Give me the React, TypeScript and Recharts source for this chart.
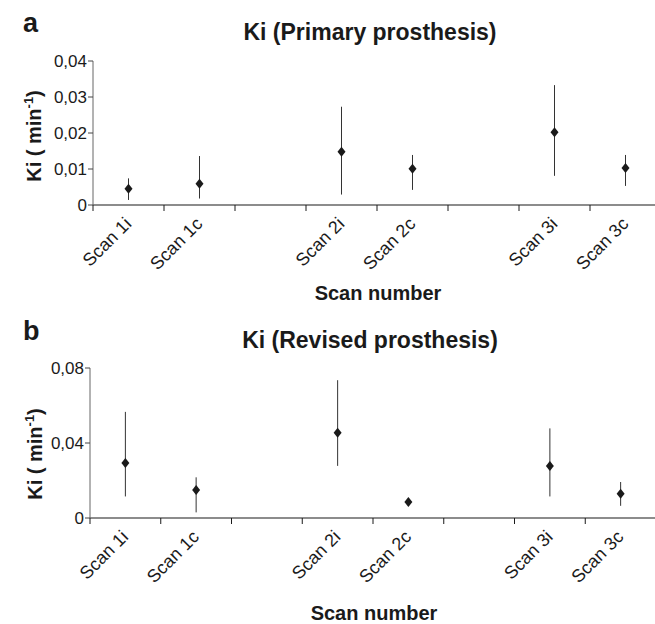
import { ComposedChart, Scatter, XAxis, YAxis, ErrorBar, Label } from 'recharts';

const categories = ['Scan 1i', 'Scan 1c', '', 'Scan 2i', 'Scan 2c', '', 'Scan 3i', 'Scan 3c'];

// panel a: primary prosthesis
const primaryKi = [0.0045, 0.0059, null, 0.0148, 0.0101, null, 0.0202, 0.0103];
const primaryLow = [0.0014, 0.0018, null, 0.0029, 0.0042, null, 0.0081, 0.0053];
const primaryHigh = [0.0074, 0.0136, null, 0.0273, 0.0139, null, 0.0333, 0.0139];
const primaryTicks = [0, 0.01, 0.02, 0.03, 0.04];

// panel b: revised prosthesis
const revisedKi = [0.0294, 0.015, null, 0.0455, 0.0086, null, 0.0278, 0.013];
const revisedLow = [0.0115, 0.003, null, 0.0278, 0.0084, null, 0.0115, 0.0065];
const revisedHigh = [0.0566, 0.0217, null, 0.0735, 0.0088, null, 0.0478, 0.0192];
const revisedTicks = [0, 0.04, 0.08];

const INK = '#1a1a1a';
const FONT = '"Liberation Sans", Arial, sans-serif';

type Row = { slot: number; name: string; ki: number; err: [number, number] };

function buildRows(ki: (number | null)[], low: (number | null)[], high: (number | null)[]): Row[] {
  const rows: Row[] = [];
  categories.forEach((name, i) => {
    const v = ki[i];
    if (v == null) return;
    rows.push({ slot: i + 0.5, name, ki: v, err: [v - (low[i] as number), (high[i] as number) - v] });
  });
  return rows;
}

// tick positions: category boundaries get a tick mark, band centres get the label
const xTicks: number[] = [];
for (let i = 0; i <= categories.length * 2; i++) xTicks.push(i / 2);

const fmtY = (v: number) => (v === 0 ? '0' : v.toFixed(2).replace('.', ','));

function XTick(props: any) {
  const { x, y, payload } = props;
  const v = payload.value as number;
  if (Number.isInteger(v)) {
    return <line x1={x} x2={x} y1={y} y2={y + 6} stroke={INK} strokeWidth={1} />;
  }
  const name = categories[Math.floor(v)];
  if (!name) return <g />;
  const tx = x + 4;
  const ty = y + 20;
  return (
    <text x={tx} y={ty} textAnchor="end" fontSize={18} fill={INK} transform={`rotate(-45, ${tx}, ${ty})`}>
      {name}
    </text>
  );
}

function Diamond(props: any) {
  const { cx, cy } = props;
  return <polygon points={`${cx},${cy - 5} ${cx + 4},${cy} ${cx},${cy + 5} ${cx - 4},${cy}`} fill={INK} />;
}

interface PanelProps {
  top: number;
  height: number;
  letter: string;
  title: string;
  rows: Row[];
  yTicks: number[];
  marginTop: number;
  plotHeight: number;
  axisWidth: number;
  marginRight: number;
  xTitleDy: number;
  yTitleX: number;
  yTitleDy: number;
}

function Panel(p: PanelProps) {
  const xAxisHeight = p.height - p.marginTop - p.plotHeight;
  return (
    <div style={{ position: 'absolute', left: 0, top: p.top, width: 655, height: p.height }}>
      <ComposedChart
        width={670}
        height={p.height}
        margin={{ top: p.marginTop, right: p.marginRight, bottom: 0, left: 0 }}
      >
        <XAxis
          type="number"
          dataKey="slot"
          domain={[0, categories.length]}
          ticks={xTicks}
          interval={0}
          tickSize={0}
          tickMargin={0}
          tickLine={false}
          tick={<XTick />}
          height={xAxisHeight}
          axisLine={{ stroke: INK, strokeWidth: 1.2 }}
        >
          <Label
            content={(lp: any) => {
              const vb = lp.viewBox;
              return (
                <text
                  x={vb.x + vb.width / 2 + 1}
                  y={vb.y + p.xTitleDy}
                  textAnchor="middle"
                  fontSize={20}
                  fontWeight="bold"
                  fill={INK}
                >
                  Scan number
                </text>
              );
            }}
          />
        </XAxis>
        <YAxis
          type="number"
          domain={[0, p.yTicks[p.yTicks.length - 1]]}
          ticks={p.yTicks}
          interval={0}
          width={p.axisWidth}
          tickFormatter={fmtY}
          tickSize={5}
          tickMargin={1}
          tick={{ fontSize: 17, fill: INK }}
          axisLine={{ stroke: '#666' }}
          tickLine={{ stroke: '#444' }}
        >
          <Label
            content={(lp: any) => {
              const vb = lp.viewBox;
              const cx = vb.x + p.yTitleX;
              const cy = vb.y + vb.height / 2 + p.yTitleDy;
              return (
                <text
                  x={cx}
                  y={cy}
                  textAnchor="middle"
                  fontSize={20}
                  fontWeight="bold"
                  fill={INK}
                  transform={`rotate(-90, ${cx}, ${cy})`}
                >
                  Ki ( min<tspan dy={-8} fontSize={13}>-1</tspan>
                  <tspan dy={8}>)</tspan>
                </text>
              );
            }}
          />
        </YAxis>
        <Scatter data={p.rows} dataKey="ki" shape={<Diamond />} isAnimationActive={false}>
          <ErrorBar dataKey="err" direction="y" width={0} stroke="#333" strokeWidth={1} />
        </Scatter>
      </ComposedChart>
      <svg
        width={655}
        height={60}
        style={{ position: 'absolute', left: 0, top: 0, pointerEvents: 'none' }}
      >
        <text x={23} y={p.top === 0 ? 32 : 30} fontSize={27} fontWeight="bold" fill={INK}>
          {p.letter}
        </text>
        <text x={370} y={p.top === 0 ? 40 : 38} textAnchor="middle" fontSize={23} fontWeight="bold" fill={INK}>
          {p.title}
        </text>
      </svg>
    </div>
  );
}

export default function App() {
  const primaryRows = buildRows(primaryKi, primaryLow, primaryHigh);
  const revisedRows = buildRows(revisedKi, revisedLow, revisedHigh);
  return (
    <div
      style={{
        position: 'absolute',
        left: 0,
        top: 0,
        width: 655,
        height: 624,
        overflow: 'hidden',
        background: '#fff',
        fontFamily: FONT,
      }}
    >
      <Panel
        top={0}
        height={310}
        letter="a"
        title="Ki (Primary prosthesis)"
        rows={primaryRows}
        yTicks={primaryTicks}
        marginTop={61}
        plotHeight={144}
        axisWidth={93}
        marginRight={9}
        xTitleDy={95}
        yTitleX={41}
        yTitleDy={3}
      />
      <Panel
        top={310}
        height={314}
        letter="b"
        title="Ki (Revised prosthesis)"
        rows={revisedRows}
        yTicks={revisedTicks}
        marginTop={58}
        plotHeight={150}
        axisWidth={90}
        marginRight={14}
        xTitleDy={102}
        yTitleX={42}
        yTitleDy={11}
      />
    </div>
  );
}
